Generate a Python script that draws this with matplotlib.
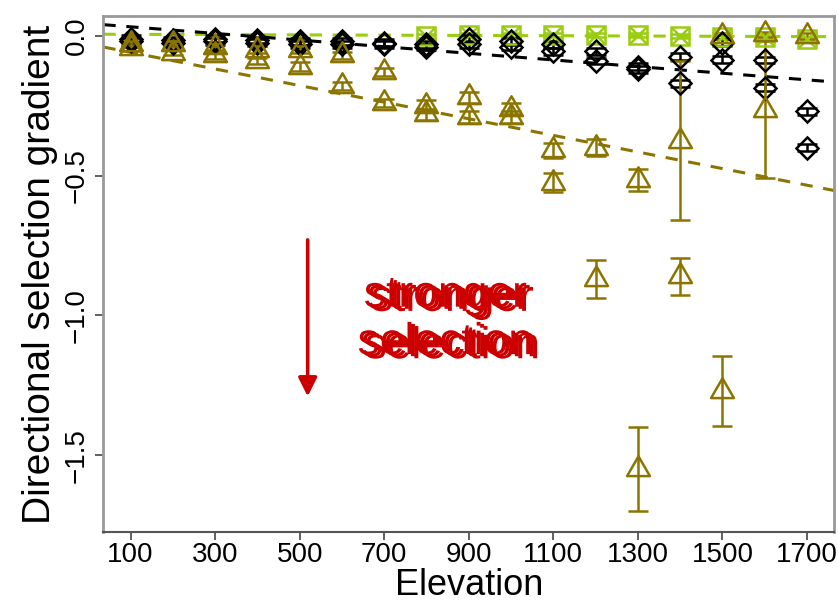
import numpy as np
import matplotlib.pyplot as plt
from matplotlib.path import Path
import matplotlib.patheffects as pe

plt.rcParams['font.family'] = ['Liberation Sans', 'DejaVu Sans']

elevation = np.arange(100, 1800, 100)

# two sets of gradients per elevation, each group
tri_a = [-0.03, -0.03, -0.04, -0.05, -0.05, -0.07, -0.13, -0.25, -0.22, -0.26,
         -0.41, -0.40, -0.515, -0.375, 0.0, -0.265, 0.0]
tri_a_se = [0.01, 0.01, 0.01, 0.012, 0.012, 0.012, 0.015, 0.02, 0.02, 0.02,
            0.027, 0.03, 0.04, 0.285, 0.01, 0.245, 0.01]
tri_b = [-0.045, -0.06, -0.07, -0.09, -0.11, -0.18, -0.24, -0.28, -0.29, -0.29,
         -0.525, -0.87, -1.55, -0.86, -1.27, 0.005, np.nan]
tri_b_se = [0.01, 0.01, 0.012, 0.012, 0.015, 0.015, 0.015, 0.02, 0.02, 0.02,
            0.035, 0.068, 0.15, 0.066, 0.125, 0.01, np.nan]

dia_a = [-0.01, -0.015, -0.01, -0.015, -0.02, -0.02, -0.025, -0.03, -0.01, -0.02,
         -0.03, -0.055, -0.11, -0.075, -0.025, -0.086, -0.27]
dia_a_se = [0.012] * 17
dia_b = [-0.02, -0.025, -0.02, -0.025, -0.03, -0.03, -0.03, -0.04, -0.03, -0.04,
         -0.055, -0.09, -0.12, -0.17, -0.085, -0.185, -0.40]
dia_b_se = [0.012] * 17

sq_elev = np.arange(800, 1800, 100)
sq = [0.0, 0.003, 0.003, 0.003, 0.003, 0.003, 0.0, -0.005, -0.005, -0.012]
sq_se = [0.008] * 10

# fitted lines: (intercept, slope)
fit_sq = (0.006, -0.000005)
fit_dia = (0.0443, -0.0001186)
fit_tri = (-0.0293, -0.000297)

green = '#9ACD10'
gold = '#8B7500'
red = '#CC0000'

fig = plt.figure(figsize=(8.38, 6.09), dpi=100)
ax = fig.add_axes([0.1235, 0.1264, 0.8717, 0.8473])
xlim = (36, 1764)
ax.set_xlim(*xlim)
ax.set_ylim(-1.775, 0.071)

xl = np.array(xlim)
for (b0, b1), col in [(fit_sq, green), (fit_dia, 'black'), (fit_tri, gold)]:
    ax.plot(xl, b0 + b1 * xl, color=col, lw=2.2, dashes=(4, 3.5), zorder=1)

tri = Path([(-1, -0.577), (1, -0.577), (0, 1.155), (-1, -0.577)],
           [Path.MOVETO, Path.LINETO, Path.LINETO, Path.CLOSEPOLY])

def group(x, y, se, col, marker, ms):
    ax.errorbar(x, y, yerr=se, fmt='none', ecolor=col, elinewidth=1.8,
                capsize=7, capthick=1.8, zorder=2)
    ax.plot(x, y, ls='none', marker=marker, ms=ms, mfc='none', mec=col,
            mew=1.8, zorder=3)

# squares with a cross inside
group(sq_elev, sq, sq_se, green, 's', 12.5)
ax.plot(sq_elev, sq, ls='none', marker='x', ms=12.5, mec=green, mew=1.8, zorder=3)

group(elevation, dia_a, dia_a_se, 'black', 'D', 11.5)
group(elevation, dia_b, dia_b_se, 'black', 'D', 11.5)
group(elevation, tri_a, tri_a_se, gold, tri, 19)
group(elevation, tri_b, tri_b_se, gold, tri, 19)

# annotation arrow and label (label printed with slightly shifted copies)
ax.annotate('', xy=(519, -1.29), xytext=(519, -0.73),
            arrowprops=dict(arrowstyle='-|>', color=red, lw=2.6,
                            mutation_scale=28, shrinkA=0, shrinkB=0))
ghost = [pe.PathPatchEffect(offset=(-2.5, 1.5), facecolor=red, edgecolor='none'),
         pe.PathPatchEffect(offset=(2.5, -1.5), facecolor=red, edgecolor='none'),
         pe.Normal()]
ax.text(853, -1.02, 'stronger\nselection', color=red, fontsize=32,
        ha='center', va='center', linespacing=1.2, path_effects=ghost)

ax.set_xticks(np.arange(100, 1800, 200))
ax.set_yticks([0.0, -0.5, -1.0, -1.5])
ax.set_yticklabels(['0.0', '\u22120.5', '\u22121.0', '\u22121.5'],
                   rotation=90, va='center')
ax.tick_params(axis='both', labelsize=20, length=6, width=1.2, color='#444444',
               direction='out')
ax.tick_params(axis='x', pad=1)
ax.tick_params(axis='y', pad=4)

for side in ['top', 'right', 'left']:
    ax.spines[side].set_color('#999999')
    ax.spines[side].set_linewidth(2)
ax.spines['bottom'].set_color('#555555')
ax.spines['bottom'].set_linewidth(1.5)

ax.set_xlabel('Elevation', fontsize=26, labelpad=0)
ax.set_ylabel('Directional selection gradient', fontsize=28, labelpad=4)

fig.savefig('out.png', dpi=100)
